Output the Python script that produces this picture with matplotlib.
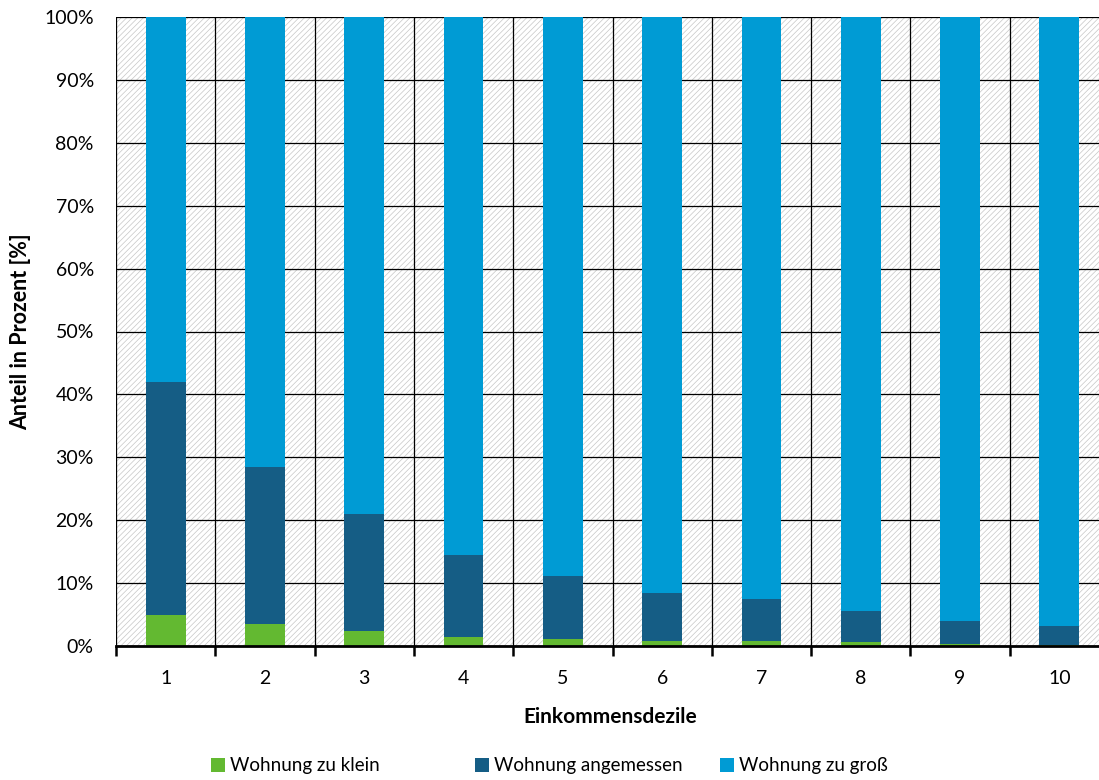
import matplotlib.pyplot as plt
import matplotlib.ticker as ticker
from matplotlib.patches import Rectangle
import numpy as np

plt.rcParams['font.family'] = ['Lato', 'DejaVu Sans']
plt.rcParams['hatch.linewidth'] = 0.5

dezile = ['1', '2', '3', '4', '5', '6', '7', '8', '9', '10']
zu_klein = [4.9, 3.5, 2.4, 1.4, 1.1, 0.8, 0.8, 0.6, 0.3, 0.2]
angemessen = [37.0, 25.0, 18.6, 13.0, 10.0, 7.6, 6.7, 5.0, 3.7, 3.0]
zu_gross = [100 - a - b for a, b in zip(zu_klein, angemessen)]

labels = ['Wohnung zu klein', 'Wohnung angemessen', 'Wohnung zu groß']
colors = ['#63B931', '#155D85', '#009BD4']
legend_x = [0.192, 0.432, 0.655]

fig = plt.figure(figsize=(10.99, 7.8), dpi=100)
ax = fig.add_axes([0.1056, 0.1718, 0.9035, 0.8064])

x = np.arange(len(dezile))
# schraffierter Hintergrund
bg = Rectangle((0, 0), 1, 1, transform=ax.transAxes, facecolor='white',
               edgecolor='#c6c6c6', hatch='//////', linewidth=0, zorder=0)
ax.add_patch(bg)

b1 = ax.bar(x, zu_klein, width=0.4, color=colors[0], zorder=3)
b2 = ax.bar(x, angemessen, width=0.4, bottom=zu_klein, color=colors[1], zorder=3)
bottom2 = [a + b for a, b in zip(zu_klein, angemessen)]
b3 = ax.bar(x, zu_gross, width=0.4, bottom=bottom2, color=colors[2], zorder=3)

ax.set_xlim(-0.5, len(dezile) - 0.5)
ax.set_ylim(0, 100)

ax.yaxis.set_major_locator(ticker.MultipleLocator(10))
ax.yaxis.set_major_formatter(ticker.FuncFormatter(lambda v, p: '%d%%' % v))
ax.set_xticks(x)
ax.set_xticklabels(dezile)
ax.set_xticks(np.arange(-0.5, len(dezile)), minor=True)

ax.tick_params(axis='x', which='major', length=0, pad=17, labelsize=14)
ax.tick_params(axis='x', which='minor', length=7, width=1.8, color='black')
ax.tick_params(axis='y', length=0, pad=16, labelsize=14)

ax.grid(True, axis='y', color='black', linewidth=0.9, zorder=1)
ax.grid(True, axis='x', which='minor', color='black', linewidth=0.9, zorder=1)
ax.set_axisbelow(True)

for s in ['top', 'right', 'left']:
    ax.spines[s].set_visible(False)
ax.spines['bottom'].set_linewidth(2)
ax.spines['bottom'].set_zorder(4)

ax.set_xlabel('Einkommensdezile', fontweight='bold', fontsize=15, va='center')
ax.xaxis.set_label_coords(0.498, -0.113)
ax.set_ylabel('Anteil in Prozent [%]', fontweight='bold', fontsize=15.5, va='center')
ax.yaxis.set_label_coords(-0.096, 0.5)

for bar, lab, lx in zip([b1, b2, b3], labels, legend_x):
    fig.legend(handles=[bar], labels=[lab], loc='center left', bbox_to_anchor=(lx, 0.018),
               frameon=False, fontsize=13.5, handlelength=0.75, handleheight=0.75,
               handletextpad=0.25, borderpad=0, borderaxespad=0)

plt.savefig('out.png', dpi=100)
